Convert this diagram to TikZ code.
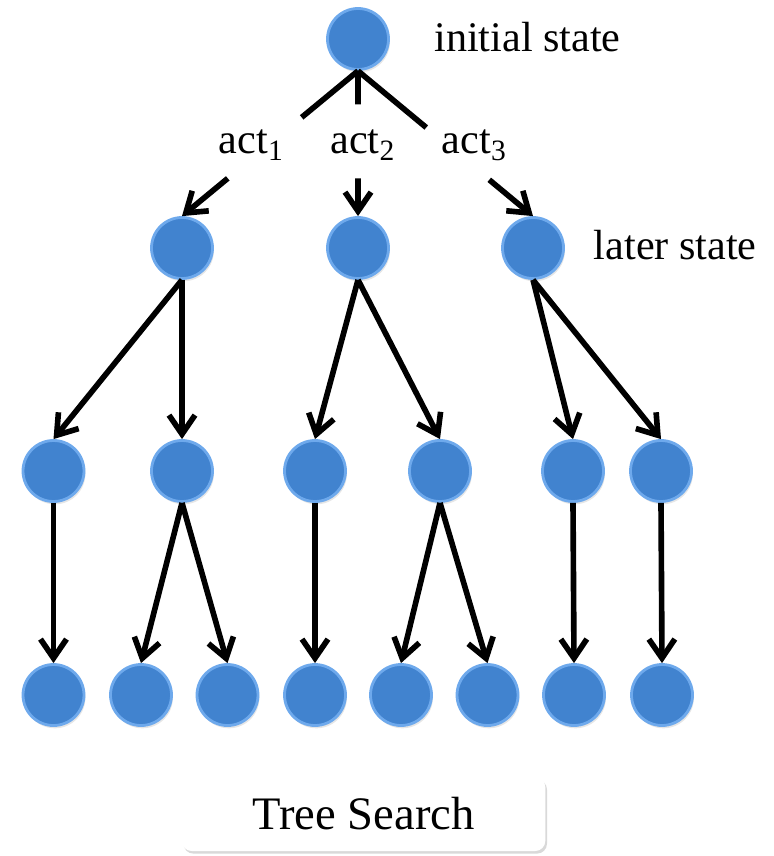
\documentclass[tikz,border=0pt]{standalone}
\usepackage{fontspec}
\setmainfont{Liberation Serif}
\usetikzlibrary{arrows.meta,calc,shadows}
\definecolor{stblue}{HTML}{4183CF}
\definecolor{stline}{HTML}{6EA9EC}
\tikzset{
  stnode/.style={circle,draw=stline,line width=1.6pt,fill=stblue,minimum size=1.22cm,inner sep=0pt,
    drop shadow={opacity=0.2,shadow xshift=0.8pt,shadow yshift=-1.6pt}},
  plainline/.style={line width=3.2pt},
  arrowline/.style={line width=3.2pt,-{Straight Barb[length=0.38cm,width=0.52cm,sharp]}},
  lbl/.style={anchor=base west,inner sep=0pt,font=\fontsize{24}{28}\selectfont}
}

\begin{document}
\begin{tikzpicture}
\useasboundingbox (0,0) rectangle (15.46,-17.12);
% states
\node[stnode] (0) at (7.16,-0.78) {};
\node[stnode] (1) at (3.64,-4.96) {};
\node[stnode] (2) at (7.16,-4.96) {};
\node[stnode] (3) at (10.66,-4.96) {};
\node[stnode] (4) at (1.07,-9.42) {};
\node[stnode] (5) at (3.64,-9.42) {};
\node[stnode] (6) at (6.3,-9.42) {};
\node[stnode] (7) at (8.8,-9.42) {};
\node[stnode] (8) at (11.46,-9.42) {};
\node[stnode] (9) at (13.22,-9.42) {};
\node[stnode] (10) at (1.07,-13.9) {};
\node[stnode] (11) at (2.82,-13.9) {};
\node[stnode] (12) at (4.55,-13.9) {};
\node[stnode] (13) at (6.3,-13.9) {};
\node[stnode] (14) at (8.02,-13.9) {};
\node[stnode] (15) at (9.75,-13.9) {};
\node[stnode] (16) at (11.48,-13.9) {};
\node[stnode] (17) at (13.24,-13.9) {};
% labels
\node[lbl] (init) at (8.68,-1.03) {initial state};
\node[lbl] (later) at (11.87,-5.19) {later state};
\node[lbl] (a1) at (4.37,-3.07) {act\textsubscript{1}};
\node[lbl] (a2) at (6.6,-3.07) {act\textsubscript{2}};
\node[lbl] (a3) at (8.83,-3.07) {act\textsubscript{3}};
% actions from the initial state
\draw[plainline] (0.south) to ($(0.south)!0.32!(1.north)$);
\draw[arrowline] ($(0.south)!0.74!(1.north)$) to (1.north);
\draw[plainline] (0.south) to ($(0.south)!0.23!(2.north)$);
\draw[arrowline] ($(0.south)!0.74!(2.north)$) to (2.north);
\draw[plainline] (0.south) to ($(0.south)!0.39!(3.north)$);
\draw[arrowline] ($(0.south)!0.75!(3.north)$) to (3.north);
% deeper levels
\draw[arrowline] (1.south) to (4.north);
\draw[arrowline] (1.south) to (5.north);
\draw[arrowline] (2.south) to (6.north);
\draw[arrowline] (2.south) to (7.north);
\draw[arrowline] (3.south) to (8.north);
\draw[arrowline] (3.south) to (9.north);
\draw[arrowline] (4.south) to (10.north);
\draw[arrowline] (5.south) to (11.north);
\draw[arrowline] (5.south) to (12.north);
\draw[arrowline] (6.south) to (13.north);
\draw[arrowline] (7.south) to (14.north);
\draw[arrowline] (7.south) to (15.north);
\draw[arrowline] (8.south) to (16.north);
\draw[arrowline] (9.south) to (17.north);
% caption box
\node[fill=white,rounded corners=0.2cm,minimum width=7.27cm,minimum height=1.48cm,
  drop shadow={opacity=0.3,shadow xshift=1pt,shadow yshift=-1.5pt},
  font=\fontsize{26.5}{30}\selectfont] (ts) at (7.27,-16.28) {Tree Search};
\end{tikzpicture}
\end{document}
